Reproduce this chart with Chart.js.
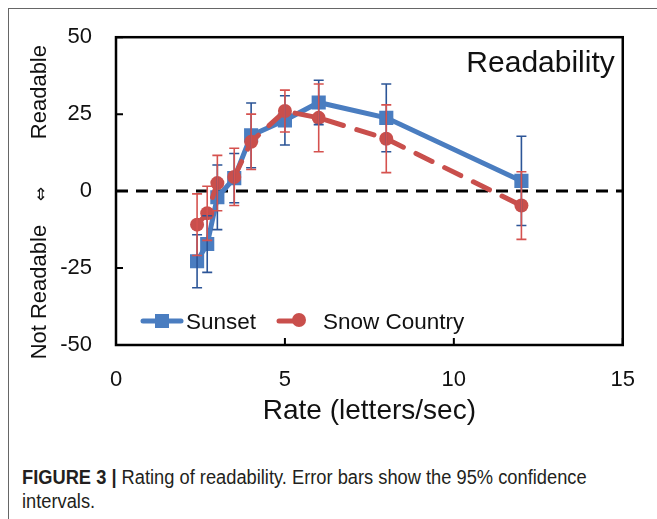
<!DOCTYPE html>
<html>
<head>
<meta charset="utf-8">
<script src="https://cdn.jsdelivr.net/npm/chart.js@4"></script>
<style>
  body { margin: 0; background: #fff; width: 657px; height: 519px; overflow: hidden; position: relative; }
  #frame { position: absolute; left: 8px; top: 8px; width: 660px; height: 520px; border-left: 1px solid #666; border-top: 1px solid #666; }
  #wrap { position: absolute; left: 0; top: 0; width: 657px; height: 440px; }
  #caption { position: absolute; left: 22px; top: 465px; width: 632px; font-family: "Liberation Sans", Arial, sans-serif; font-size: 20px; line-height: 24px; color: #231f20; transform: scaleX(0.914); transform-origin: left top; }
  #caption b { font-weight: bold; }
</style>
</head>
<body>
<div id="frame"></div>
<div id="wrap"><canvas id="myChart" width="657" height="440"></canvas></div>
<div id="caption"><b>FIGURE 3 |</b> Rating of readability. Error bars show the 95% confidence intervals.</div>
<script>
// values
let rates = [2.4, 2.7, 3.0, 3.5, 4.0, 5.0, 6.0, 8.0, 12.0];
let sunset = [-22.8, -17.2, -2.0, 4.2, 18.1, 23.0, 28.8, 23.8, 3.3];
let sunsetErr = [8.6, 9.2, 10.5, 8.0, 10.5, 8.0, 7.2, 11.0, 14.5];
let snow = [-10.9, -7.2, 2.6, 4.6, 16.0, 26.0, 23.8, 17.0, -4.7];
let snowErr = [10.0, 8.8, 9.0, 9.3, 9.0, 6.8, 11.0, 11.0, 11.0];
let xTicks = [0, 5, 10, 15];
let yTicks = [-50, -25, 0, 25, 50];

const FONT = "'Liberation Sans', Arial, sans-serif";
const BLUE = "#4a7dc0";
const RED = "#c94f4c";

function toPoints(ys) {
  return rates.map((x, i) => ({ x: x, y: ys[i] }));
}

// zero line, plot box and inward ticks
const framePlugin = {
  id: "frame",
  beforeDatasetsDraw(chart) {
    let ctx = chart.ctx;
    let ys = chart.scales.y;
    let a = chart.chartArea;
    let y0 = ys.getPixelForValue(0);
    ctx.save();
    ctx.strokeStyle = "#000";
    ctx.lineWidth = 3;
    ctx.setLineDash([12, 8]);
    ctx.beginPath();
    ctx.moveTo(a.left, y0);
    ctx.lineTo(a.right, y0);
    ctx.stroke();
    ctx.restore();
  },
  afterDraw(chart) {
    let ctx = chart.ctx;
    let xs = chart.scales.x, ys = chart.scales.y;
    let a = chart.chartArea;
    ctx.save();
    ctx.strokeStyle = "#000";
    ctx.lineWidth = 2.5;
    ctx.strokeRect(a.left, a.top, a.right - a.left, a.bottom - a.top);
    ctx.lineWidth = 2;
    ctx.beginPath();
    xTicks.forEach(v => {
      let px = xs.getPixelForValue(v);
      ctx.moveTo(px, a.bottom);
      ctx.lineTo(px, a.bottom - 7);
    });
    yTicks.forEach(v => {
      let py = ys.getPixelForValue(v);
      ctx.moveTo(a.left, py);
      ctx.lineTo(a.left + 7, py);
    });
    ctx.stroke();

    // title inside the plot
    ctx.fillStyle = "#111";
    ctx.font = "30px " + FONT;
    ctx.textAlign = "right";
    ctx.textBaseline = "middle";
    ctx.fillText("Readability", a.right - 8, a.top + 27);

    // y axis title, arrow sits at zero
    let y0 = ys.getPixelForValue(0);
    ctx.translate(40, y0);
    ctx.rotate(-Math.PI / 2);
    ctx.textAlign = "center";
    ctx.font = "22px " + FONT;
    ctx.fillText("Readable", 99, 0);
    ctx.fillText("Not Readable", -101, 0);
    ctx.font = "17px 'DejaVu Sans'";
    ctx.fillText("\u21D4", -3, 2);
    ctx.restore();

    // legend
    ctx.save();
    ctx.lineCap = "round";
    ctx.lineWidth = 5;
    ctx.strokeStyle = BLUE;
    ctx.beginPath();
    ctx.moveTo(143, 321);
    ctx.lineTo(181, 321);
    ctx.stroke();
    ctx.fillStyle = BLUE;
    ctx.fillRect(155, 314, 14, 14);
    ctx.strokeStyle = RED;
    ctx.beginPath();
    ctx.moveTo(279, 321);
    ctx.lineTo(300, 321);
    ctx.stroke();
    ctx.fillStyle = RED;
    ctx.beginPath();
    ctx.arc(299, 320, 7, 0, Math.PI * 2);
    ctx.fill();
    ctx.fillStyle = "#111";
    ctx.font = "22.5px " + FONT;
    ctx.textAlign = "left";
    ctx.textBaseline = "middle";
    ctx.fillText("Sunset", 186, 323);
    ctx.fillText("Snow Country", 323, 323);
    ctx.restore();
  }
};

// 95% confidence interval bars
const errorBars = {
  id: "errorBars",
  afterDatasetsDraw(chart) {
    let ctx = chart.ctx;
    let xs = chart.scales.x, ys = chart.scales.y;
    let sets = [
      { vals: sunset, err: sunsetErr, color: "#2c5597" },
      { vals: snow, err: snowErr, color: "#d5524f" }
    ];
    ctx.save();
    ctx.lineWidth = 1.6;
    sets.forEach(s => {
      ctx.strokeStyle = s.color;
      ctx.beginPath();
      rates.forEach((r, i) => {
        let px = xs.getPixelForValue(r);
        let top = ys.getPixelForValue(s.vals[i] + s.err[i]);
        let bot = ys.getPixelForValue(s.vals[i] - s.err[i]);
        ctx.moveTo(px, top);
        ctx.lineTo(px, bot);
        ctx.moveTo(px - 5, top);
        ctx.lineTo(px + 5, top);
        ctx.moveTo(px - 5, bot);
        ctx.lineTo(px + 5, bot);
      });
      ctx.stroke();
    });
    ctx.restore();
  }
};

let ctx = document.getElementById("myChart").getContext("2d");
let myChart = new Chart(ctx, {
  type: "line",
  data: {
    datasets: [
      {
        label: "Snow Country",
        data: toPoints(snow),
        borderColor: RED,
        backgroundColor: RED,
        borderWidth: 5,
        borderDash: [18, 14],
        borderCapStyle: "round",
        pointStyle: "circle",
        pointRadius: 7,
        pointBorderWidth: 0,
        tension: 0
      },
      {
        label: "Sunset",
        data: toPoints(sunset),
        borderColor: BLUE,
        backgroundColor: BLUE,
        borderWidth: 5,
        pointStyle: "rect",
        pointRadius: 10,
        pointBorderWidth: 0,
        tension: 0
      }
    ]
  },
  options: {
    responsive: false,
    animation: false,
    layout: { padding: { left: 0, top: 36, right: 29, bottom: 0 } },
    plugins: { legend: { display: false }, tooltip: { enabled: false } },
    scales: {
      x: {
        type: "linear",
        min: 0,
        max: 15,
        afterBuildTicks: s => { s.ticks = xTicks.map(v => ({ value: v })); },
        ticks: { color: "#111", font: { family: FONT, size: 22 }, padding: 22 },
        grid: { display: false, drawTicks: false },
        border: { display: false },
        title: { display: true, text: "Rate (letters/sec)", color: "#111", font: { family: FONT, size: 28 }, padding: { top: 0, bottom: 12 } },
        afterFit: s => { s.height = 95; }
      },
      y: {
        type: "linear",
        min: -50,
        max: 50,
        afterBuildTicks: s => { s.ticks = yTicks.map(v => ({ value: v })); },
        ticks: { color: "#111", font: { family: FONT, size: 22 }, padding: 24 },
        grid: { display: false, drawTicks: false },
        border: { display: false },
        afterFit: s => { s.width = 116; }
      }
    }
  },
  plugins: [framePlugin, errorBars]
});
</script>
</body>
</html>
